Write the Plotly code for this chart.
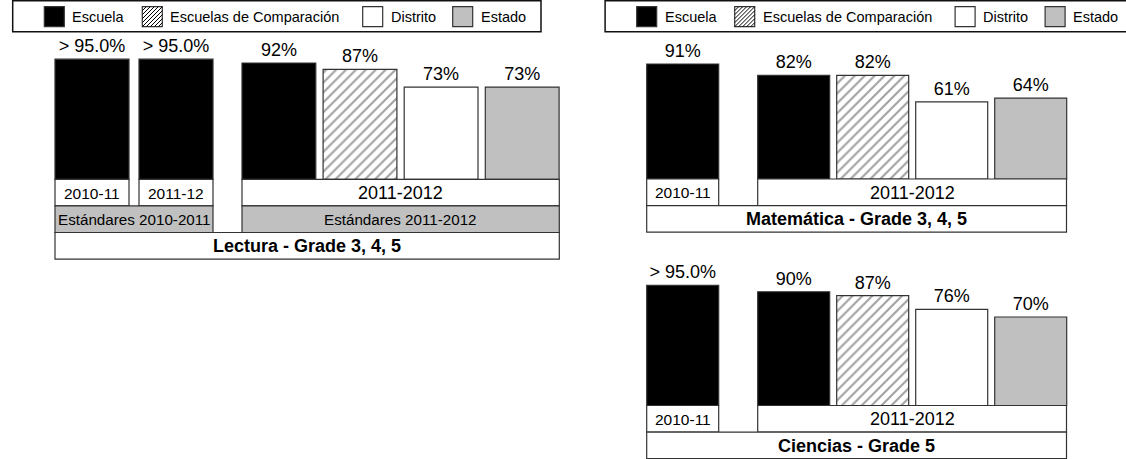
import plotly.graph_objects as go

# ---------------- data ----------------
series = ["Escuela", "Escuelas de Comparación", "Distrito", "Estado"]
curr_year = "2011-2012"

lectura_years = ["2010-11", "2011-12"]
lectura_prev = [95, 95]
lectura_prev_text = ["> 95.0%", "> 95.0%"]
lectura_curr = [92, 87, 73, 73]
lectura_standards = ["Estándares 2010-2011", "Estándares 2011-2012"]
lectura_title = "Lectura - Grade 3, 4, 5"

mat_years = ["2010-11"]
mat_prev = [91]
mat_prev_text = ["91%"]
mat_curr = [82, 82, 61, 64]
mat_title = "Matemática - Grade 3, 4, 5"

cien_years = ["2010-11"]
cien_prev = [95]
cien_prev_text = ["> 95.0%"]
cien_curr = [90, 87, 76, 70]
cien_title = "Ciencias - Grade 5"

# ---------------- style ----------------
W, H = 1126, 459
K = 1.264  # pixels per percentage point
FONT = "Liberation Sans, Arial, sans-serif"
EDGE = "#333333"
GRAY = "#c0c0c0"
FILL = {"Escuela": "#000000", "Escuelas de Comparación": "#ffffff",
        "Distrito": "#ffffff", "Estado": GRAY}
PATTERN = {"Escuela": "", "Escuelas de Comparación": "/", "Distrito": "", "Estado": ""}
ROW = 26.6


def xp(px):
    return px / W


def yp(py):
    return 1 - py / H


panels = [
    dict(ax="y", bottom=179.3, prev_starts=[55, 139], prev_w=74, curr_start=242, pitch=81.1,
         curr_w=73.8, right=559.3, years=lectura_years, prev=lectura_prev, prev_text=lectura_prev_text,
         curr=lectura_curr, standards=lectura_standards, title=lectura_title),
    dict(ax="y2", bottom=179.0, prev_starts=[646.7], prev_w=72, curr_start=757.7, pitch=79.0,
         curr_w=72, right=1066.5, years=mat_years, prev=mat_prev, prev_text=mat_prev_text,
         curr=mat_curr, standards=None, title=mat_title),
    dict(ax="y3", bottom=405.5, prev_starts=[646.7], prev_w=72, curr_start=757.7, pitch=79.0,
         curr_w=72, right=1066.5, years=cien_years, prev=cien_prev, prev_text=cien_prev_text,
         curr=cien_curr, standards=None, title=cien_title),
]

fig = go.Figure()
shapes = []
annotations = []


def box(x0, y0, x1, y1, fill, lw=1.2, color=EDGE):
    shapes.append(dict(type="rect", xref="paper", yref="paper", x0=xp(x0), x1=xp(x1),
                       y0=yp(y1), y1=yp(y0), fillcolor=fill, line=dict(color=color, width=lw),
                       layer="above"))


def label(x, y, text, size, bold=False, anchor="center"):
    annotations.append(dict(xref="paper", yref="paper", x=xp(x), y=yp(y),
                            text=f"<b>{text}</b>" if bold else text, showarrow=False,
                            xanchor=anchor, yanchor="middle",
                            font=dict(family=FONT, size=size, color="#000")))


layout_axes = {}
for i, p in enumerate(panels):
    B = p["bottom"]
    # previous-year bars (Escuela only)
    pc = [s + p["prev_w"] / 2 for s in p["prev_starts"]]
    fig.add_trace(go.Bar(
        x=pc, y=p["prev"], width=[p["prev_w"]] * len(pc), yaxis=p["ax"], xaxis="x",
        marker=dict(color=FILL["Escuela"], line=dict(color=EDGE, width=1.2)),
        text=p["prev_text"], textposition="outside", cliponaxis=False, constraintext="none",
        textfont=dict(family=FONT, size=18, color="#000"), showlegend=False, hoverinfo="skip"))
    # current-year bars
    cc = [p["curr_start"] + j * p["pitch"] + p["curr_w"] / 2 for j in range(len(series))]
    fig.add_trace(go.Bar(
        x=cc, y=p["curr"], width=[p["curr_w"]] * len(cc), yaxis=p["ax"], xaxis="x",
        marker=dict(color=[FILL[s] for s in series], line=dict(color=EDGE, width=1.2),
                    pattern=dict(shape=[PATTERN[s] for s in series], fgcolor="#000",
                                 bgcolor="#fff", size=7, solidity=0.3, fillmode="overlay")),
        text=[f"{v}%" for v in p["curr"]], textposition="outside", cliponaxis=False,
        constraintext="none", textfont=dict(family=FONT, size=18, color="#000"),
        showlegend=False, hoverinfo="skip"))

    name = "yaxis" if p["ax"] == "y" else "yaxis" + p["ax"][1:]
    ax = dict(domain=[0, 1], range=[-(H - B) / K, B / K], visible=False, fixedrange=True)
    if p["ax"] != "y":
        ax.update(overlaying="y", anchor="x")
    layout_axes[name] = ax

    # year row
    y0, y1 = B, B + ROW
    for s, t in zip(p["prev_starts"], p["years"]):
        box(s, y0, s + p["prev_w"], y1, "#fff")
        label(s + p["prev_w"] / 2, (y0 + y1) / 2 + 0.5, t, 15.5)
    box(p["curr_start"], y0, p["right"], y1, "#fff")
    label((p["curr_start"] + p["right"]) / 2, (y0 + y1) / 2 + 0.5, curr_year, 18)
    y0 = y1
    # standards row
    if p["standards"]:
        y1 = y0 + ROW
        a0, a1 = p["prev_starts"][0], p["prev_starts"][-1] + p["prev_w"]
        box(a0, y0, a1, y1, GRAY)
        label((a0 + a1) / 2, (y0 + y1) / 2 + 0.5, p["standards"][0], 15.2)
        box(p["curr_start"], y0, p["right"], y1, GRAY)
        label((p["curr_start"] + p["right"]) / 2, (y0 + y1) / 2 + 0.5, p["standards"][1], 15.2)
        y0 = y1
    # title row
    y1 = y0 + ROW
    box(p["prev_starts"][0], y0, p["right"], y1, "#fff")
    label((p["prev_starts"][0] + p["right"]) / 2, (y0 + y1) / 2 + 0.5, p["title"], 18, bold=True)

# ---------------- legends (two boxed keys) ----------------
legend_swatches = [44.3, 142.3, 362.7, 452.7]
for off, right in [(0, 541), (592.4, 1140)]:
    box(12.7 + off, 0.7, right, 31.7, "#fff", lw=1.5, color="#111")
    for s, sx in zip(series, legend_swatches):
        x0 = sx + off
        box(x0, 6.7, x0 + 20, 26.7, FILL[s], lw=1.2)
        if PATTERN[s] == "/":
            segs = []
            for d in range(-16, 20, 4):
                u0, v0 = max(0, -d), max(0, d)
                u1, v1 = min(20, 20 - d), min(20, 20 + d)
                if u1 - u0 <= 0:
                    continue
                segs.append(f"M{xp(x0 + u0)},{yp(26.7 - v0)} L{xp(x0 + u1)},{yp(26.7 - v1)}")
            shapes.append(dict(type="path", xref="paper", yref="paper", path=" ".join(segs),
                               line=dict(color="#000", width=1), layer="above"))
        label(x0 + 26, 17.2, s, 14.5, anchor="left")

fig.update_layout(
    width=W, height=H, margin=dict(l=0, r=0, t=0, b=0),
    paper_bgcolor="#fff", plot_bgcolor="#fff", barmode="overlay", bargap=0,
    xaxis=dict(domain=[0, 1], range=[0, W], visible=False, fixedrange=True),
    shapes=shapes, annotations=annotations, showlegend=False,
    font=dict(family=FONT, color="#000"),
    **layout_axes,
)

fig.write_html("out.html", config={"displayModeBar": False, "staticPlot": True},
               post_script="document.body.style.margin='0';document.body.style.overflow='hidden';")
